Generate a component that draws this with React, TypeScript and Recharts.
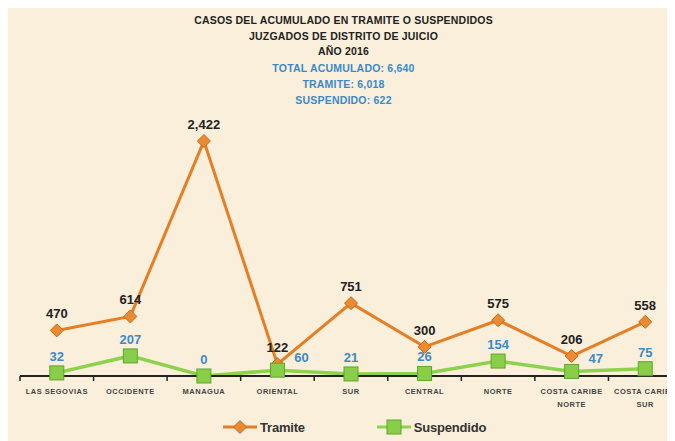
import React from "react";
import { LineChart, Line, XAxis, YAxis, LabelList } from "recharts";

const categories = [
  "LAS SEGOVIAS",
  "OCCIDENTE",
  "MANAGUA",
  "ORIENTAL",
  "SUR",
  "CENTRAL",
  "NORTE",
  "COSTA CARIBE NORTE",
  "COSTA CARIBE SUR",
];
const tramite = [470, 614, 2422, 122, 751, 300, 575, 206, 558];
const suspendido = [32, 207, 0, 60, 21, 26, 154, 47, 75];

const titleLines = ["CASOS DEL ACUMULADO EN TRAMITE O SUSPENDIDOS", "JUZGADOS DE DISTRITO DE JUICIO", "AÑO 2016"];
const totalLines = ["TOTAL ACUMULADO: 6,640", "TRAMITE: 6,018", "SUSPENDIDO: 622"];

// suspendido labels pushed to the right of the marker (as in the source sheet)
const sideLabels = ["ORIENTAL", "COSTA CARIBE NORTE"];

const data = categories.map((name, i) => ({
  name,
  tramite: tramite[i],
  suspendido: suspendido[i],
}));

const FONT = "'Liberation Sans', Arial, sans-serif";
const W = 680;
const H = 433;
const M = { top: 77, right: 6, left: 12, bottom: 35 };
const HALF_BAND = (W - M.left - M.right) / categories.length / 2;

const ORANGE = "#E57E25";
const GREEN = "#8CD24C";
const BLUE = "#3A8AC8";

const Diamond = (props: any) => {
  const { cx, cy } = props;
  if (cx == null || cy == null) return null;
  const s = 6.5;
  return (
    <polygon
      points={`${cx},${cy - s} ${cx + s},${cy} ${cx},${cy + s} ${cx - s},${cy}`}
      fill="#EA8A32"
      stroke="#C9681A"
      strokeWidth={1}
    />
  );
};

const Square = (props: any) => {
  const { cx, cy } = props;
  if (cx == null || cy == null) return null;
  const s = 7;
  return <rect x={cx - s} y={cy - s} width={s * 2} height={s * 2} fill="#88CE48" stroke="#5EA52E" strokeWidth={1} />;
};

const CatTick = (props: any) => {
  const { x, y, payload, index } = props;
  const words = String(payload.value).split(" ");
  const lines = words.length > 2 ? [words.slice(0, 2).join(" "), words.slice(2).join(" ")] : [payload.value];
  return (
    <g>
      <line x1={x - HALF_BAND} x2={x - HALF_BAND} y1={y - 8} y2={y - 3} stroke="#222" strokeWidth={1.5} />
      {index === categories.length - 1 && (
        <line x1={x + HALF_BAND} x2={x + HALF_BAND} y1={y - 8} y2={y - 3} stroke="#222" strokeWidth={1.5} />
      )}
      {lines.map((l: string, i: number) => (
        <text
          key={i}
          x={x}
          y={y + 10 + i * 13}
          textAnchor="middle"
          fontFamily={FONT}
          fontSize={7.5}
          fontWeight="bold"
          fill="#444"
          letterSpacing={0.5}
        >
          {l}
        </text>
      ))}
    </g>
  );
};

const TramiteLabel = (props: any) => {
  const { x, y, value } = props;
  return (
    <text x={x} y={y - 12} textAnchor="middle" fontFamily={FONT} fontSize={13} fontWeight="bold" fill="#222">
      {Number(value).toLocaleString("en-US")}
    </text>
  );
};

const SuspLabel = (props: any) => {
  const { x, y, value, index } = props;
  const side = sideLabels.includes(categories[index]);
  return (
    <text
      x={side ? x + 24 : x}
      y={side ? y - 8 : y - 12}
      textAnchor="middle"
      fontFamily={FONT}
      fontSize={13}
      fontWeight="bold"
      fill={BLUE}
    >
      {value}
    </text>
  );
};

const LegendItem = ({ label, color, marker }: { label: string; color: string; marker: "diamond" | "square" }) => (
  <div style={{ display: "flex", alignItems: "center", gap: 3 }}>
    <svg width={34} height={16}>
      <line x1={0} x2={34} y1={8} y2={8} stroke={color} strokeWidth={3} />
      {marker === "diamond" ? <Diamond cx={17} cy={8} /> : <Square cx={17} cy={8} />}
    </svg>
    <span style={{ fontFamily: FONT, fontSize: 13, fontWeight: "bold", color: "#333", letterSpacing: -0.2 }}>
      {label}
    </span>
  </div>
);

export default function App() {
  return (
    <div style={{ position: "relative", width: 667, height: H, overflow: "hidden", background: "#FAEFDB" }}>
      <div style={{ position: "absolute", left: 0, top: 5, width: 667, textAlign: "center", fontFamily: FONT }}>
        {titleLines.map((t) => (
          <div
            key={t}
            style={{ fontSize: 10.5, fontWeight: "bold", color: "#222", lineHeight: "15.5px", paddingLeft: 4, letterSpacing: 0.2 }}
          >
            {t}
          </div>
        ))}
        {totalLines.map((t) => (
          <div
            key={t}
            style={{ fontSize: 10.5, fontWeight: "bold", color: BLUE, lineHeight: "16px", paddingLeft: 4, letterSpacing: 0.2 }}
          >
            {t}
          </div>
        ))}
      </div>
      <div style={{ position: "absolute", left: 0, top: 0 }}>
        <LineChart width={W} height={H} data={data} margin={M}>
          <XAxis
            dataKey="name"
            scale="band"
            interval={0}
            height={30}
            tickLine={false}
            axisLine={{ stroke: "#222", strokeWidth: 2 }}
            tick={<CatTick />}
          />
          <YAxis hide domain={[0, 3000]} />
          <Line
            dataKey="tramite"
            stroke={ORANGE}
            strokeWidth={3}
            dot={<Diamond />}
            activeDot={false}
            isAnimationActive={false}
          >
            <LabelList dataKey="tramite" content={<TramiteLabel />} />
          </Line>
          <Line
            dataKey="suspendido"
            stroke={GREEN}
            strokeWidth={3.5}
            dot={<Square />}
            activeDot={false}
            isAnimationActive={false}
          >
            <LabelList dataKey="suspendido" content={<SuspLabel />} />
          </Line>
        </LineChart>
      </div>
      <div style={{ position: "absolute", left: 215, top: 411, display: "flex", gap: 72 }}>
        <LegendItem label="Tramite" color={ORANGE} marker="diamond" />
        <LegendItem label="Suspendido" color={GREEN} marker="square" />
      </div>
    </div>
  );
}
